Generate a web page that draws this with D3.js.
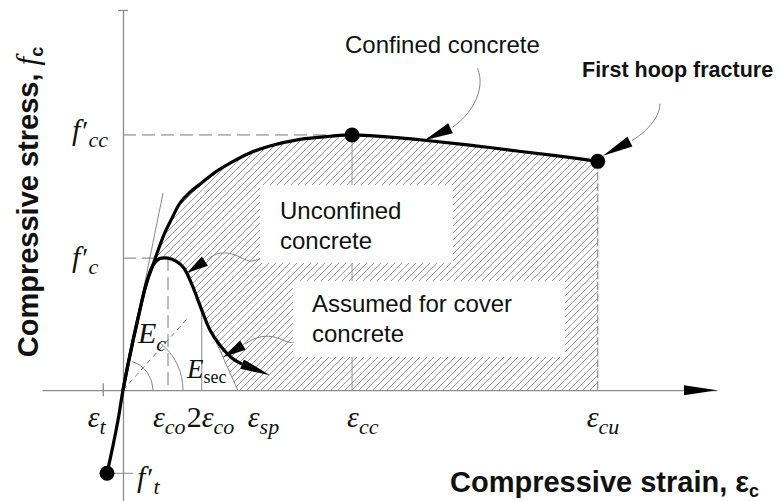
<!DOCTYPE html>
<html>
<head>
<meta charset="utf-8">
<script src="https://cdn.jsdelivr.net/npm/d3@7"></script>
<style>
  body { margin: 0; background: #fff; }
  svg { display: block; }
</style>
</head>
<body>
<script>
(function() {

    // Schematic Mander model: strain in per mille, stress in MPa
    var tensionBranch = [[-0.71, -18.9], [-0.44, -12.5], [-0.22, -6.8], [0, 0]];
    var sharedRise = [[0, 0], [0.31, 8.0], [0.67, 16.4], [1.02, 23.9], [1.33, 28.4]];
    var unconfinedBranch = [[1.64, 29.9], [2.0, 30.0], [2.36, 29.3], [2.71, 27.7], [3.07, 23.9],
                            [3.5, 18.2], [3.87, 13.6], [4.31, 10.2], [4.84, 7.3], [5.29, 5.9]];
    var unconfinedArrowTip = [6.53, 3.4];
    var confinedBranch = [[1.56, 31.8], [1.87, 35.9], [2.18, 39.1], [2.53, 42.5], [2.98, 45.0],
                          [3.42, 46.8], [4.09, 49.5], [4.76, 51.6], [5.64, 53.9], [6.53, 55.5],
                          [7.87, 57.0], [9.2, 57.7], [10.18, 58.0], [11.87, 57.5], [13.4, 56.8],
                          [15.4, 55.7], [17.6, 54.3], [19.4, 53.2], [21.1, 52.0]];

    // Key strains and stresses
    var strainNames = ['t', 'co', '2co', 'sp', 'cc', 'cu'];
    var strainValues = [-0.9, 2.0, 3.5, 5.1, 10.18, 21.1];
    var stressNames = ['cc', 'c', 't'];
    var stressValues = [58.0, 30.0, -18.9];
    var tangentEnd = [1.78, 44.8];
    var secantEnd = [2.83, 16.1];
    var markerPoints = [[10.18, 58.0], [21.1, 52.0], [-0.71, -18.9]];

    // Annotations
    var noteLines = [['Confined concrete'], ['First hoop fracture'], ['Unconfined', 'concrete'], ['Assumed for cover', 'concrete']];
    var noteTips = [[13.4, 56.8], [21.33, 53.3], [2.84, 26.6], [4.44, 7.5]];

    var width = 781, height = 501;
    var sans = 'Arial, "Liberation Sans", Helvetica, sans-serif';
    var serif = '"Times New Roman", "Liberation Serif", serif';

    var x = d3.scaleLinear().domain([-3.6, 26.4]).range([42, 717]);
    var y = d3.scaleLinear().domain([-25.2, 86.4]).range([501, 10]);

    var eT = strainValues[0], eCo = strainValues[1], e2Co = strainValues[2],
        eSp = strainValues[3], eCc = strainValues[4], eCu = strainValues[5];
    var fCc = stressValues[0], fC = stressValues[1], fT = stressValues[2];

    var svg = d3.select('body').append('svg')
        .attr('width', width)
        .attr('height', height);

    // Hatch pattern
    var pat = svg.append('defs').append('pattern')
        .attr('id', 'hatch')
        .attr('patternUnits', 'userSpaceOnUse')
        .attr('width', 7).attr('height', 7);
    pat.append('path')
        .attr('d', 'M-1,1 l2,-2 M0,7 l7,-7 M6,8 l2,-2')
        .attr('stroke', '#858585')
        .attr('stroke-width', 0.85);
    pat.append('circle').attr('cx', 1.5).attr('cy', 1.5).attr('r', 0.4).attr('fill', '#ccc');

    var line = d3.line()
        .x(function(d) { return x(d[0]); })
        .y(function(d) { return y(d[1]); })
        .curve(d3.curveCatmullRom.alpha(0.5));

    var confinedPts = tensionBranch.concat(sharedRise.slice(1), confinedBranch);
    var confinedPos = sharedRise.concat(confinedBranch);
    var unconfinedPts = sharedRise.concat(unconfinedBranch);
    var spallStart = unconfinedBranch.filter(function(d) { return d[0] === e2Co; })[0];
    var untilSpall = unconfinedPts.filter(function(d) { return d[0] <= e2Co; });

    // Hatched area: under confined curve, above unconfined curve / spalling line
    var hatchD = line(confinedPos) +
        'L' + x(eCu) + ',' + y(0) +
        'L' + x(eSp) + ',' + y(0) +
        line(untilSpall.slice().reverse()).replace(/^M/, 'L') + 'Z';
    svg.append('path')
        .attr('d', hatchD)
        .attr('fill', 'url(#hatch)');

    // eps_cc vertical line (behind label boxes)
    svg.append('line')
        .attr('x1', x(eCc)).attr('x2', x(eCc))
        .attr('y1', y(fCc)).attr('y2', y(0))
        .attr('stroke', '#8a8a8a').attr('stroke-width', 0.9);

    // White label boxes
    var boxes = [[260, 185, 193, 78], [293, 281, 272, 76]];
    svg.selectAll('rect.box').data(boxes).enter().append('rect')
        .attr('class', 'box')
        .attr('x', function(d) { return d[0]; })
        .attr('y', function(d) { return d[1]; })
        .attr('width', function(d) { return d[2]; })
        .attr('height', function(d) { return d[3]; })
        .attr('fill', '#fff');

    // Reference lines
    var dashed = [
        [[0, fCc], [eCc, fCc], '13,6'],
        [[0, fC], [eCo, fC], '13,6'],
        [[eCo, fC], [eCo, 0], '13,6'],
        [[eCu, 52.0], [eCu, 0], '8,3'],
        [[0, 0], secantEnd, '5,4']
    ];
    svg.selectAll('line.ref').data(dashed).enter().append('line')
        .attr('class', 'ref')
        .attr('x1', function(d) { return x(d[0][0]); })
        .attr('y1', function(d) { return y(d[0][1]); })
        .attr('x2', function(d) { return x(d[1][0]); })
        .attr('y2', function(d) { return y(d[1][1]); })
        .attr('stroke', '#7a7a7a')
        .attr('stroke-width', 1)
        .attr('stroke-dasharray', function(d) { return d[2]; });

    var solid = [
        [[0, 0], tangentEnd],
        [spallStart, [eSp, 0]],
        [spallStart, [e2Co, 0]],
        [markerPoints[2], [0.45, fT]]
    ];
    svg.selectAll('line.thin').data(solid).enter().append('line')
        .attr('class', 'thin')
        .attr('x1', function(d) { return x(d[0][0]); })
        .attr('y1', function(d) { return y(d[0][1]); })
        .attr('x2', function(d) { return x(d[1][0]); })
        .attr('y2', function(d) { return y(d[1][1]); })
        .attr('stroke', '#7a7a7a')
        .attr('stroke-width', 0.9);

    // Modulus arcs at the origin
    var ox = x(0), oy = y(0);
    [[30, 72], [60, 52]].forEach(function(a) {
        var p = d3.path();
        p.arc(ox, oy, a[0], -a[1] * Math.PI / 180, 0);
        svg.append('path').attr('d', p.toString())
            .attr('fill', 'none').attr('stroke', '#7a7a7a').attr('stroke-width', 0.9);
    });

    // Axes
    var xAxis = svg.append('g')
        .attr('transform', 'translate(0,' + y(0) + ')')
        .call(d3.axisBottom(x).tickValues([eT]).tickSize(6).tickSizeOuter(0).tickFormat(''));
    xAxis.selectAll('.tick line').attr('y1', -7);
    var yAxis = svg.append('g')
        .attr('transform', 'translate(' + x(0) + ',0)')
        .call(d3.axisLeft(y).tickValues([86.4]).tickSize(5).tickSizeOuter(0).tickFormat(''));
    yAxis.selectAll('.tick line').attr('x1', 5);
    svg.selectAll('.domain, .tick line')
        .attr('stroke', '#8c8c8c').attr('stroke-width', 1.3);

    var xEnd = x.range()[1];
    svg.append('path')
        .attr('d', 'M' + xEnd + ',' + y(0) + 'L' + (xEnd - 33) + ',' + (y(0) - 5) + 'L' + (xEnd - 33) + ',' + (y(0) + 5) + 'Z')
        .attr('fill', '#000');

    // Curves
    svg.append('path').attr('d', line(confinedPts))
        .attr('fill', 'none').attr('stroke', '#000').attr('stroke-width', 3.2)
        .attr('stroke-linejoin', 'round');
    svg.append('path').attr('d', line(unconfinedPts))
        .attr('fill', 'none').attr('stroke', '#000').attr('stroke-width', 3.2)
        .attr('stroke-linejoin', 'round');

    function arrowHead(tip, base, hw) {
        var dx = tip[0] - base[0], dy = tip[1] - base[1], L = Math.hypot(dx, dy);
        var nx = -dy / L * hw, ny = dx / L * hw;
        return 'M' + tip[0] + ',' + tip[1] +
            'L' + (base[0] + nx) + ',' + (base[1] + ny) +
            'L' + (base[0] - nx) + ',' + (base[1] - ny) + 'Z';
    }

    var lastU = unconfinedBranch[unconfinedBranch.length - 1];
    svg.append('path')
        .attr('d', arrowHead([x(unconfinedArrowTip[0]), y(unconfinedArrowTip[1])], [x(lastU[0]), y(lastU[1])], 5))
        .attr('fill', '#000');

    // Markers
    svg.selectAll('circle.pt').data(markerPoints).enter().append('circle')
        .attr('class', 'pt')
        .attr('cx', function(d) { return x(d[0]); })
        .attr('cy', function(d) { return y(d[1]); })
        .attr('r', 7.5)
        .attr('fill', '#000');

    // Annotation leaders + arrowheads (offsets relative to tip, px)
    var leaderLayout = [
        {base: [26, -12], path: 'M28,-13 C46,-25 62,-50 53,-72'},
        {base: [27, -14], path: 'M29,-15 C42,-23 57,-37 57,-52'},
        {base: [18, -12], path: 'M20,-13 C30,-22 41,-22 53,-16 S65,-12 73,-14'},
        {base: [20, -12], path: 'M22,-13 C33,-21 45,-23 55,-19 S67,-14 71,-15'}
    ];
    noteTips.forEach(function(t, i) {
        var tx = x(t[0]), ty = y(t[1]), L = leaderLayout[i];
        var g = svg.append('g').attr('transform', 'translate(' + tx + ',' + ty + ')');
        g.append('path').attr('d', L.path)
            .attr('fill', 'none').attr('stroke', '#777').attr('stroke-width', 0.9);
        g.append('path').attr('d', arrowHead([0, 0], L.base, 5.5)).attr('fill', '#000');
    });

    // Annotation texts
    var noteLayout = [
        {x: 345, y: 53, size: 24, weight: 'normal'},
        {x: 582, y: 77, size: 21.5, weight: 'bold'},
        {x: 280, y: 219, size: 24, weight: 'normal'},
        {x: 312, y: 312, size: 24, weight: 'normal'}
    ];
    noteLines.forEach(function(lines, i) {
        var L = noteLayout[i];
        var t = svg.append('text')
            .attr('font-family', sans)
            .attr('font-size', L.size)
            .attr('font-weight', L.weight)
            .attr('fill', '#111');
        lines.forEach(function(s, j) {
            t.append('tspan').attr('x', L.x).attr('y', L.y + j * 30).text(s);
        });
    });

    // Rich text helper
    function rich(px, py, parts, fam, anchor) {
        var t = svg.append('text')
            .attr('x', px).attr('y', py)
            .attr('font-family', fam)
            .attr('text-anchor', anchor || 'start')
            .attr('fill', '#111');
        parts.forEach(function(p) {
            var s = t.append('tspan').text(p.t)
                .attr('font-size', p.size)
                .attr('font-style', p.it ? 'italic' : 'normal');
            if (p.dx) s.attr('dx', p.dx);
            if (p.dy) s.attr('dy', p.dy);
            if (p.fam) s.attr('font-family', p.fam);
            if (p.bold) s.attr('font-weight', 'bold');
        });
        return t;
    }

    // Strain labels
    var strainDx = [-15, -15, -15, 10, -5, -11];
    strainNames.forEach(function(n, i) {
        var parts = [];
        if (n === '2co') { parts.push({t: '2', size: 30}); n = 'co'; }
        parts.push({t: 'ε', size: 30, it: true});
        parts.push({t: n, size: 22, it: true, dy: 7});
        rich(x(strainValues[i]) + strainDx[i], 427, parts, serif);
    });

    // Stress labels
    var stressPos = [[72, 140], [72, 267], [137, 487]];
    stressNames.forEach(function(n, i) {
        rich(stressPos[i][0], stressPos[i][1], [
            {t: 'f', size: 30, it: true},
            {t: '′', size: 28, dx: 2},
            {t: n, size: 22, it: true, dy: 7}
        ], serif);
    });

    // Moduli
    rich(138, 343, [{t: 'E', size: 30, it: true}, {t: 'c', size: 22, it: true, dy: 8}], serif);
    rich(187, 378, [{t: 'E', size: 27, it: true}, {t: 'sec', size: 18, dy: 5}], serif);

    // Axis titles
    rich(450, 492, [
        {t: 'Compressive strain, ', size: 29, bold: true},
        {t: 'ε', size: 29, bold: true},
        {t: 'c', size: 18, bold: true, dy: 5}
    ], sans);

    rich(0, 0, [
        {t: 'Compressive stress, ', size: 29, bold: true},
        {t: 'f', size: 31, it: true, fam: serif},
        {t: 'c', size: 18, bold: true, dy: 5}
    ], sans, 'middle').attr('transform', 'translate(38,202) rotate(-90)');

})();
</script>
</body>
</html>
